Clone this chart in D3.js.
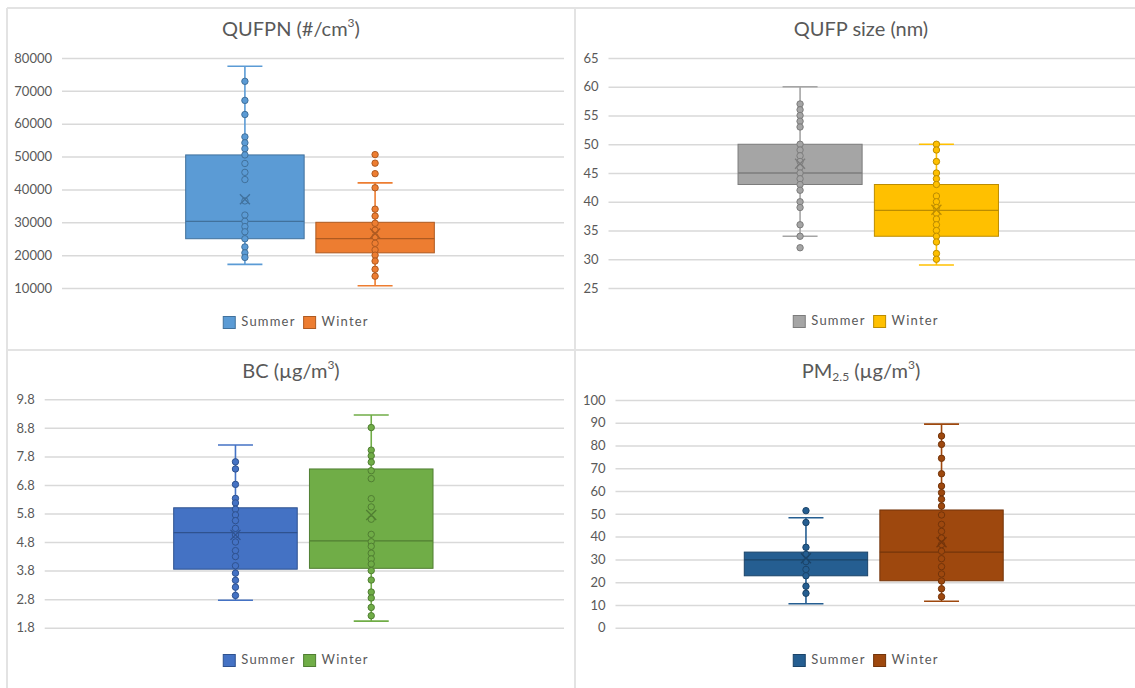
<!DOCTYPE html>
<html>
<head>
<meta charset="utf-8">
<script src="https://cdn.jsdelivr.net/npm/d3@7"></script>
<style>
  body { margin: 0; background: #fff; }
  svg text { font-family: Lato, "Open Sans", sans-serif; fill: #595959; }
</style>
</head>
<body>
<svg id="chart" width="1135" height="688"></svg>
<script>
// ---- data ----
const seasons = ["Summer", "Winter"]

// stats order: [min whisker, Q1, median, Q3, max whisker, mean]
const qufpnTicks = [10000, 20000, 30000, 40000, 50000, 60000, 70000, 80000]
const qufpnSummerStats = [17200, 25000, 30300, 50500, 77500, 37000]
const qufpnWinterStats = [10700, 20700, 25000, 30000, 42000, 26600]
const qufpnSummerPoints = [72900, 67100, 62800, 56000, 54200, 52400, 50500, 47900, 45200, 43000, 36500, 32200, 30300, 28700, 27100, 25000, 22500, 20700, 19300]
const qufpnWinterPoints = [50600, 48000, 44800, 40500, 34000, 31900, 29700, 27600, 25600, 23600, 21600, 20000, 18200, 15700, 13600]

const sizeTicks = [25, 30, 35, 40, 45, 50, 55, 60, 65]
const sizeSummerStats = [34, 43, 45, 50, 60, 46.6]
const sizeWinterStats = [29, 34, 38.5, 43, 50, 38.6]
const sizeSummerPoints = [57, 56, 55, 54, 53, 50, 49, 48, 47, 46, 45, 44, 43, 42, 40, 39, 36, 34, 32]
const sizeWinterPoints = [50, 49, 47, 45, 44, 43, 41, 40, 39, 38, 37, 36, 35, 34, 33, 31, 30]

const bcTicks = [1.8, 2.8, 3.8, 4.8, 5.8, 6.8, 7.8, 8.8, 9.8]
const bcSummerStats = [2.76, 3.85, 5.13, 6.0, 8.2, 5.05]
const bcWinterStats = [2.03, 3.88, 4.84, 7.36, 9.25, 5.75]
const bcSummerPoints = [7.61, 7.36, 6.82, 6.33, 6.17, 5.95, 5.75, 5.55, 5.28, 5.05, 4.8, 4.5, 4.29, 3.97, 3.71, 3.46, 3.22, 2.93]
const bcWinterPoints = [8.81, 8.02, 7.82, 7.6, 7.3, 7.02, 6.32, 6.03, 5.6, 5.07, 4.81, 4.65, 4.41, 4.21, 4.03, 3.8, 3.47, 3.05, 2.84, 2.51, 2.22]

const pmTicks = [0, 10, 20, 30, 40, 50, 60, 70, 80, 90, 100]
const pmSummerStats = [10.5, 22.8, 29.8, 33.2, 48.3, 30.5]
const pmWinterStats = [11.6, 20.6, 33.2, 51.7, 89.4, 37.5]
const pmSummerPoints = [51.4, 46.2, 35.3, 32.2, 29.0, 25.6, 22.8, 18.2, 15.1]
const pmWinterPoints = [84.2, 80.5, 74.4, 67.6, 62.2, 59.3, 56.4, 53.4, 49.5, 45.4, 42.3, 39.4, 36.5, 33.6, 30.3, 26.8, 23.6, 20.5, 17.1, 13.6]

// ---- panels: layout + colours ----
const panels = [
  { x: 7, y: 8, w: 568, left: 55, right: 551, top: 50, bottom: 280, titleY: 23, legendY: 315,
    title: [["QUFPN (#/cm", 0], ["3", 1], [")", 0]], ticks: qufpnTicks, fmt: d3.format("d"),
    stats: [qufpnSummerStats, qufpnWinterStats], points: [qufpnSummerPoints, qufpnWinterPoints],
    fill: ["#5b9bd5", "#ed7d31"], dark: ["#41719c", "#ae5a21"] },
  { x: 575, y: 8, w: 572, left: 33.5, right: 553, top: 50, bottom: 280, titleY: 23, legendY: 314,
    title: [["QUFP size (nm)", 0]], ticks: sizeTicks, fmt: d3.format("d"),
    stats: [sizeSummerStats, sizeWinterStats], points: [sizeSummerPoints, sizeWinterPoints],
    fill: ["#a5a5a5", "#ffc000"], dark: ["#7c7c7c", "#bc8c00"] },
  { x: 7, y: 350, w: 568, left: 37.7, right: 555, top: 49.3, bottom: 277.7, titleY: 23, legendY: 311,
    title: [["BC (\u00b5g/m", 0], ["3", 1], [")", 0]], ticks: bcTicks, fmt: d3.format(".1f"),
    stats: [bcSummerStats, bcWinterStats], points: [bcSummerPoints, bcWinterPoints],
    fill: ["#4472c4", "#70ad47"], dark: ["#2f528f", "#507e32"] },
  { x: 575, y: 350, w: 572, left: 40.5, right: 557, top: 50, bottom: 277.7, titleY: 23, legendY: 311,
    title: [["PM", 0], ["2.5", -1], [" (\u00b5g/m", 0], ["3", 1], [")", 0]], ticks: pmTicks, fmt: d3.format("d"),
    stats: [pmSummerStats, pmWinterStats], points: [pmSummerPoints, pmWinterPoints],
    fill: ["#255e91", "#9e480e"], dark: ["#1b4469", "#73340a"] }
]

const svg = d3.select("#chart")

// panel frame lines
const frame = svg.append("g").attr("stroke", "#e3e3e3").attr("stroke-width", 2)
frame.append("line").attr("x1", 7).attr("x2", 1135).attr("y1", 8).attr("y2", 8)
frame.append("line").attr("x1", 7).attr("x2", 7).attr("y1", 8).attr("y2", 688)
frame.append("line").attr("x1", 575).attr("x2", 575).attr("y1", 8).attr("y2", 688)
frame.append("line").attr("x1", 7).attr("x2", 1135).attr("y1", 350).attr("y2", 350)

const drawPanel = function(p) {
  const g = svg.append("g").attr("transform", "translate(" + p.x + "," + p.y + ")")

  const width = p.right - p.left,
    height = p.bottom - p.top

  const y = d3.scaleLinear()
    .domain([p.ticks[0], p.ticks[p.ticks.length - 1]])
    .range([height, 0])

  const x = d3.scaleBand()
    .domain(seasons)
    .range([0, width])
    .paddingInner(0.09)
    .paddingOuter(0.95)

  // title
  const title = g.append("text")
    .attr("x", p.w / 2)
    .attr("y", p.titleY)
    .attr("text-anchor", "middle")
    .attr("dominant-baseline", "middle")
    .attr("font-size", "20px")
  p.title.forEach(([t, shift]) => {
    const ts = title.append("tspan").text(t)
    if (shift !== 0) {
      ts.attr("font-size", "12px")
        .attr("baseline-shift", shift > 0 ? "7px" : "-5px")
    }
  })

  const plot = g.append("g")
    .attr("transform", "translate(" + p.left + "," + p.top + ")")

  // gridlines + y labels (gridlines run to the panel edge)
  const axis = plot.append("g")
    .call(d3.axisLeft(y)
      .tickValues(p.ticks)
      .tickFormat(p.fmt)
      .tickSize(-(p.w - 11 - p.left))
      .tickPadding(10))
  axis.select(".domain").remove()
  axis.selectAll(".tick line")
    .attr("stroke", "#d9d9d9")
    .attr("stroke-width", 1.5)
  axis.selectAll(".tick text")
    .attr("font-size", "13px")
    .attr("font-family", "Lato, 'Open Sans', sans-serif")
    .attr("fill", "#595959")

  seasons.forEach((s, i) => {
    const [mn, q1, med, q3, mx, mean] = p.stats[i]
    const cx = x(s) + x.bandwidth() / 2
    const capW = 35
    const grp = plot.append("g")

    // whiskers
    grp.append("line")
      .attr("x1", cx).attr("x2", cx)
      .attr("y1", y(mx)).attr("y2", y(mn))
      .attr("stroke", p.fill[i]).attr("stroke-width", 1.6)
    ;[mn, mx].forEach(v => {
      grp.append("line")
        .attr("x1", cx - capW / 2).attr("x2", cx + capW / 2)
        .attr("y1", y(v)).attr("y2", y(v))
        .attr("stroke", p.fill[i]).attr("stroke-width", 1.6)
    })

    // box
    grp.append("rect")
      .attr("x", x(s))
      .attr("width", x.bandwidth())
      .attr("y", y(q3))
      .attr("height", y(q1) - y(q3))
      .attr("fill", p.fill[i])
      .attr("stroke", p.dark[i])
      .attr("stroke-width", 1)

    // median
    grp.append("line")
      .attr("x1", x(s)).attr("x2", x(s) + x.bandwidth())
      .attr("y1", y(med)).attr("y2", y(med))
      .attr("stroke", p.dark[i]).attr("stroke-width", 1.3)

    // inner points / outliers
    grp.selectAll("circle")
      .data(p.points[i])
      .enter().append("circle")
      .attr("cx", cx)
      .attr("cy", d => y(d))
      .attr("r", 3.2)
      .attr("fill", p.fill[i])
      .attr("stroke", p.dark[i])
      .attr("stroke-width", 1)

    // mean marker
    const m = 5
    grp.append("path")
      .attr("d", "M" + (cx - m) + "," + (y(mean) - m) + "L" + (cx + m) + "," + (y(mean) + m) +
                 "M" + (cx - m) + "," + (y(mean) + m) + "L" + (cx + m) + "," + (y(mean) - m))
      .attr("stroke", p.dark[i])
      .attr("stroke-width", 1.3)
      .attr("fill", "none")
  })

  // legend
  const legend = g.append("g")
  let lx = 0
  seasons.forEach((s, i) => {
    legend.append("rect")
      .attr("x", lx).attr("y", -6.5)
      .attr("width", 12).attr("height", 12)
      .attr("fill", p.fill[i])
      .attr("stroke", p.dark[i])
      .attr("stroke-width", 1)
    const t = legend.append("text")
      .attr("x", lx + 18)
      .attr("y", 0)
      .attr("dominant-baseline", "middle")
      .attr("font-size", "13px")
      .attr("letter-spacing", "1.2px")
      .text(s)
    lx += 18 + t.node().getComputedTextLength() + 8
  })
  const lw = lx - 8
  legend.attr("transform", "translate(" + (p.w / 2 - lw / 2 + 5) + "," + p.legendY + ")")
}

panels.forEach(drawPanel)
</script>
</body>
</html>
